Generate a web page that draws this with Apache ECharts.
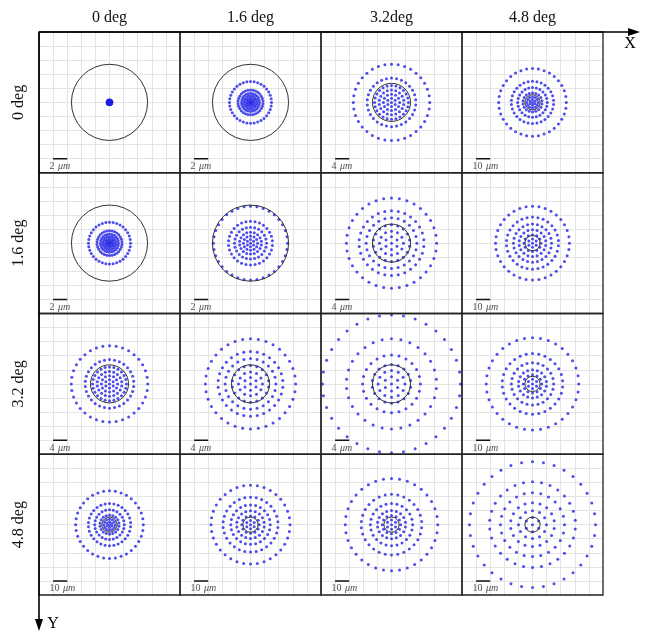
<!DOCTYPE html>
<html lang="en">
<head>
    <meta charset="UTF-8">
    <title>Spot diagram matrix</title>
    <script src="https://cdn.jsdelivr.net/npm/echarts@6/dist/echarts.min.js"></script>
</head>
<style>
    html, body { margin: 0; padding: 0; background: #fff; }
    #container { width: 647px; height: 632px; }
</style>
<body>
<div id="container"></div>
<script>
    // field angles along X (columns) and Y (rows)
    var colLabels = ['0 deg', '1.6 deg', '3.2deg', '4.8 deg'];
    var rowLabels = ['0 deg', '1.6 deg', '3.2 deg', '4.8 deg'];

    // size of one grid division in each cell (um) = scale bar length
    var gridStep = [
        [2, 2, 4, 10],
        [2, 2, 4, 10],
        [4, 4, 4, 10],
        [10, 10, 10, 10]
    ];

    // airy disk radius (um)
    var airyRadius = 5.4;

    // hexapolar pupil sampling: points on each ring, inner -> outer
    var ringPoints = [6, 12, 18, 24, 30, 36];

    // spot ring radii (um), inner -> outer
    var rings00 = [0.04, 0.08, 0.12, 0.16, 0.2, 0.25];
    var rings01 = [0.28, 0.57, 0.92, 1.28, 1.77, 2.98];
    var rings02 = [1.2, 2.3, 3.5, 4.8, 6.9, 10.85];
    var rings03 = [2, 4, 6.8, 10.5, 15, 24];
    var rings11 = [0.5, 1.0, 1.56, 2.27, 3.12, 5.25];
    var rings12 = [1.8, 3.4, 5.2, 7.2, 9.2, 12.8];
    var rings13 = [3, 6, 9.5, 13.5, 18.5, 26.2];
    var rings31 = [3, 6.2, 9.8, 14, 19.5, 28];
    var rings22 = [2, 3.8, 5.5, 8.2, 12.8, 19.6];
    var rings23 = [3.3, 6.5, 10, 15, 21.5, 32.8];
    var rings33 = [5, 9.9, 15.6, 22.7, 30.5, 44.7];

    var ringRadii = [
        [rings00, rings01, rings02, rings03],
        [rings01, rings11, rings12, rings13],
        [rings02, rings12, rings22, rings23],
        [rings03, rings31, rings23, rings33]
    ];

    var chart = echarts.init(document.getElementById('container'));

    var L = 39, T = 32, CW = 141, CH = 140.75;
    var serif = '"Liberation Serif", "DejaVu Serif", serif';

    var grids = [], xAxes = [], yAxes = [], series = [];

    function spotPoints(radii)
    {
        var pts = [[0, 0]];
        for (var k = 0; k < radii.length; k++)
        {
            var n = ringPoints[k];
            for (var j = 0; j < n; j++)
            {
                var a = Math.PI / 2 + j * 2 * Math.PI / n;
                pts.push([radii[k] * Math.cos(a), radii[k] * Math.sin(a)]);
            }
        }
        return pts;
    }

    for (var r = 0; r < 4; r++)
    {
        for (var c = 0; c < 4; c++)
        {
            var i = r * 4 + c;
            var s = gridStep[r][c];

            grids.push({
                left: L + c * CW,
                top: T + r * CH,
                width: CW,
                height: CH,
                show: true,
                backgroundColor: 'transparent',
                borderColor: '#222',
                borderWidth: 1.3,
                z: 3
            });

            var split = {
                show: true,
                showMinLine: false,
                showMaxLine: false,
                lineStyle: {color: '#e4e4e4', width: 1}
            };

            xAxes.push({
                gridIndex: i,
                type: 'value',
                min: -5 * s,
                max: 5 * s,
                interval: s,
                position: r === 0 ? 'top' : 'bottom',
                name: r === 0 ? colLabels[c] : '',
                nameLocation: 'middle',
                nameGap: 6,
                nameTextStyle: {fontFamily: serif, fontSize: 16, color: '#111'},
                axisLine: {show: false},
                axisTick: {show: false},
                axisLabel: {show: false},
                splitLine: split
            });

            yAxes.push({
                gridIndex: i,
                type: 'value',
                min: -5 * s,
                max: 5 * s,
                interval: s,
                name: c === 0 ? rowLabels[r] : '',
                nameLocation: 'middle',
                nameGap: 12,
                nameTextStyle: {fontFamily: serif, fontSize: 16, color: '#111'},
                axisLine: {show: false},
                axisTick: {show: false},
                axisLabel: {show: false},
                splitLine: split
            });

            // ray intercepts
            series.push({
                type: 'scatter',
                xAxisIndex: i,
                yAxisIndex: i,
                data: spotPoints(ringRadii[r][c]),
                symbolSize: (r === 0 && c === 0) ? 4 : 3,
                itemStyle: {color: '#2020e6'},
                silent: true,
                z: 2
            });

            // airy disk
            series.push({
                type: 'custom',
                xAxisIndex: i,
                yAxisIndex: i,
                data: [[0, 0, airyRadius]],
                silent: true,
                z: 4,
                renderItem: function (params, api)
                {
                    var c0 = api.coord([api.value(0), api.value(1)]);
                    var c1 = api.coord([api.value(0) + api.value(2), api.value(1)]);
                    return {
                        type: 'circle',
                        shape: {cx: c0[0], cy: c0[1], r: c1[0] - c0[0]},
                        style: {fill: 'none', stroke: '#333', lineWidth: 1}
                    };
                }
            });

            // scale bar
            series.push({
                type: 'line',
                xAxisIndex: i,
                yAxisIndex: i,
                data: [[-4 * s, -4 * s], [-3 * s, -4 * s]],
                symbol: 'none',
                silent: true,
                lineStyle: {color: '#111', width: 1.5}
            });

            series.push({
                type: 'scatter',
                xAxisIndex: i,
                yAxisIndex: i,
                data: [[-4.25 * s, -4.55 * s]],
                symbolSize: 1,
                itemStyle: {color: 'rgba(0,0,0,0)'},
                silent: true,
                label: {
                    show: true,
                    position: 'inside',
                    align: 'left',
                    verticalAlign: 'middle',
                    formatter: '{n|' + s + '} {u|μm}',
                    rich: {
                        n: {fontFamily: serif, fontSize: 10, color: '#222'},
                        u: {fontFamily: serif, fontSize: 10, fontStyle: 'italic', color: '#222'}
                    }
                }
            });
        }
    }

    var option = {
        animation: false,
        backgroundColor: '#fff',
        grid: grids,
        xAxis: xAxes,
        yAxis: yAxes,
        series: series,
        graphic: [
            {type: 'line', shape: {x1: L, y1: T, x2: 632, y2: T}, style: {stroke: '#000', lineWidth: 1.6}, z: 10},
            {type: 'polygon', shape: {points: [[640, T], [628, T - 4], [628, T + 4]]}, style: {fill: '#000'}, z: 10},
            {type: 'line', shape: {x1: L, y1: T, x2: L, y2: 622}, style: {stroke: '#000', lineWidth: 1.6}, z: 10},
            {type: 'polygon', shape: {points: [[L, 631], [L - 4, 619], [L + 4, 619]]}, style: {fill: '#000'}, z: 10},
            {type: 'text', x: 630, y: 44, style: {text: 'X', font: '16px ' + serif, fill: '#000', align: 'center', verticalAlign: 'middle', textAlign: 'center', textVerticalAlign: 'middle'}, z: 10},
            {type: 'text', x: 53, y: 624, style: {text: 'Y', font: '16px ' + serif, fill: '#000', align: 'center', verticalAlign: 'middle', textAlign: 'center', textVerticalAlign: 'middle'}, z: 10}
        ]
    };

    chart.setOption(option);
</script>
</body>
</html>
